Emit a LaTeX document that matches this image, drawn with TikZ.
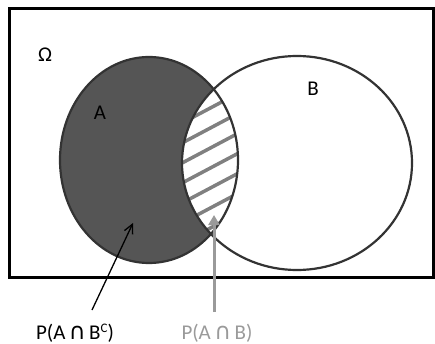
\documentclass[tikz,border=0pt]{standalone}
\usepackage{fontspec}
\setmainfont{Carlito}
\newfontfamily\symfont{DejaVu Sans}
\usetikzlibrary{arrows.meta}
\definecolor{darkfill}{HTML}{555555}
\definecolor{edge}{HTML}{333333}
\definecolor{lightg}{HTML}{9A9A9A}
\definecolor{hatchg}{HTML}{808080}
\newcommand{\capsym}{{\symfont\fontsize{23}{23}\selectfont ∩}}
\newcommand{\supc}[1]{\raisebox{7pt}{\fontsize{13}{13}\selectfont #1}}
\begin{document}
\begin{tikzpicture}[x=1pt,y=-1pt,
  lbl/.style={font=\fontsize{21}{21}\selectfont, inner sep=0pt},
  outline/.style={draw=edge, line width=2.2pt},
  ptr/.style={line width=1.3pt, -{Straight Barb[length=9pt,width=9pt,line width=1.3pt]}},
  ptrg/.style={draw=lightg, line width=3pt, -{Triangle[length=10pt,width=11pt]}}]
\useasboundingbox (0,0) rectangle (435,344);
% universe
\node[draw=black, line width=3pt, minimum width=424pt, minimum height=269pt, inner sep=0pt] (omegabox) at (221,143) {};
% set A filled
\fill[darkfill] (149,160) ellipse [x radius=89, y radius=103];
% lens white + hatch
\begin{scope}
  \clip (149,160) ellipse [x radius=89, y radius=103];
  \clip (297,163) ellipse [x radius=115, y radius=107];
  \fill[white] (140,60) rectangle (260,280);
  \foreach \c in {80,100,...,360}
    \draw[hatchg, line width=3.5pt] (150,\c) -- (280,{\c-0.53*130});
\end{scope}
\draw[outline] (149,160) ellipse [x radius=89, y radius=103];
\draw[outline] (297,163) ellipse [x radius=115, y radius=107];
% labels
\node[lbl, anchor=base] (om) at (45,62) {Ω};
\node[lbl, anchor=base] (la) at (100,120) {A};
\node[lbl, anchor=base] (lb) at (313,96) {B};
\node[lbl, anchor=base] (p1) at (75,339) {P(A\,\capsym\,B\supc{C})};
\node[lbl, anchor=base, text=lightg] (p2) at (217,339) {P(A\,\capsym\,B)};
% pointers
\coordinate (t1) at (92,310);
\coordinate (h1) at (133,223);
\coordinate (t2) at (214,312);
\coordinate (h2) at (214,215);
\draw[ptr] (t1) -- (h1);
\draw[ptrg] (t2) -- (h2);
\end{tikzpicture}
\end{document}
